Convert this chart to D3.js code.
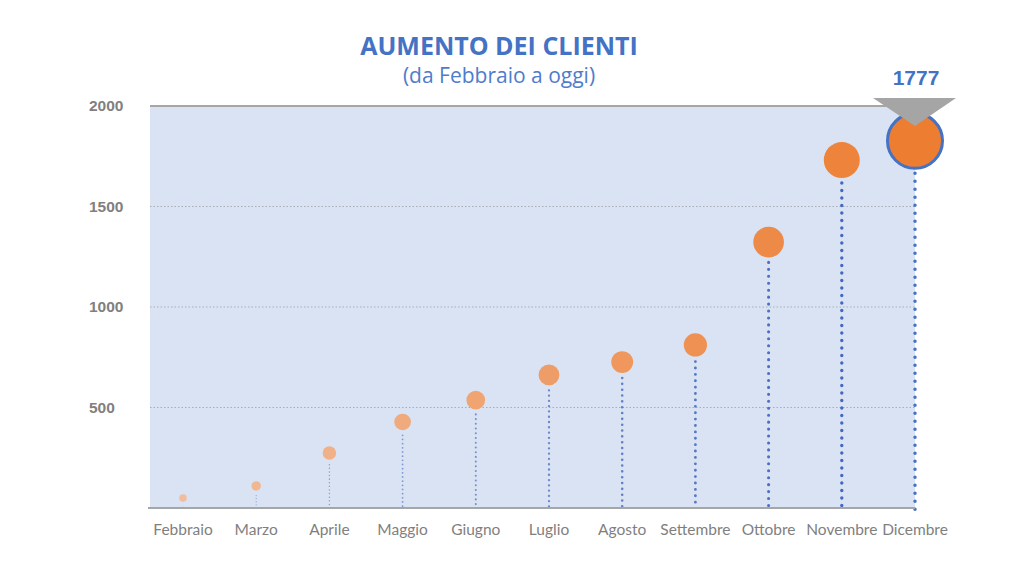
<!DOCTYPE html>
<html><head><meta charset="utf-8">
<script src="https://cdn.jsdelivr.net/npm/d3@7"></script>
<style>html,body{margin:0;padding:0;background:#fff;}svg{display:block;}</style>
</head><body>
<svg id="chart" width="1024" height="576"></svg>
<script>
const months = ["Febbraio","Marzo","Aprile","Maggio","Giugno","Luglio","Agosto","Settembre","Ottobre","Novembre","Dicembre"];
const clients = [50,110,274,428,537,662,726,811,1323,1731,1777];
const yTicks = [500,1000,1500,2000];
const titleText = "AUMENTO DEI CLIENTI";
const subtitleText = "(da Febbraio a oggi)";

const svg = d3.select("#chart");
const plot = {left:150, right:915, top:106, bottom:508};
const x = d3.scalePoint().domain(months).range([183, 915]);
const y = d3.scaleLinear().domain([0, 2000]).range([plot.bottom, plot.top]);
const idx = d3.scaleLinear().domain([0, months.length - 2]);
const r = d3.scalePow().exponent(0.7).domain([0, 1731]).range([2.5, 18]);
const fill = idx.copy().range(["#f0bd9e", "#ee843c"]);
const stemW = idx.copy().range([1, 3.4]).clamp(true);
const stemGap = idx.copy().range([2.5, 7.5]).clamp(true);
const stemCol = idx.copy().range(["#9cb0d8", "#4468c0"]).clamp(true);
const blue = "#4472c4";
const last = months.length - 1;

svg.append("rect").attr("x", plot.left).attr("y", plot.top)
  .attr("width", plot.right - plot.left).attr("height", plot.bottom - plot.top)
  .attr("fill", "#dae3f3");

svg.selectAll(".grid").data(yTicks.filter(t => t < 2000)).join("line")
  .attr("x1", plot.left).attr("x2", plot.right)
  .attr("y1", d => y(d)).attr("y2", d => y(d))
  .attr("stroke", "#a9adb5").attr("stroke-width", 1).attr("stroke-dasharray", "1.5,2");
svg.append("line").attr("x1", plot.left).attr("x2", plot.right)
  .attr("y1", y(2000)).attr("y2", y(2000)).attr("stroke", "#a6a6a6").attr("stroke-width", 2);

svg.selectAll(".ylab").data(yTicks).join("text")
  .attr("x", 89).attr("y", d => y(d) + 5)
  .attr("font-family", "'Liberation Sans', Arial, sans-serif").attr("font-weight", "bold")
  .attr("font-size", 15.5).attr("fill", "#808080").text(d => d);

const data = months.map((m, i) => ({m, v: clients[i], i}));
const cyOf = d => d.i === last ? y(d.v) - 10 : y(d.v);
const rOf = d => d.i === last ? 27.5 : r(d.v);
svg.selectAll(".stem").data(data).join("line")
  .attr("x1", d => x(d.m)).attr("x2", d => x(d.m))
  .attr("y1", d => cyOf(d) + rOf(d) + 5)
  .attr("y2", d => d.i === last ? plot.bottom + 6 : plot.bottom)
  .attr("stroke", d => d.i === last ? blue : stemCol(d.i))
  .attr("stroke-width", d => d.i === last ? 3.5 : stemW(d.i))
  .attr("stroke-linecap", d => d.i === 0 ? "butt" : "round")
  .attr("stroke-dasharray", d => d.i === 0 ? null : `0,${d.i === last ? 8 : stemGap(d.i)}`);

svg.append("line").attr("x1", plot.left - 2).attr("x2", plot.right)
  .attr("y1", plot.bottom).attr("y2", plot.bottom).attr("stroke", "#a6a6a6").attr("stroke-width", 2);

svg.selectAll(".dot").data(data).join("circle")
  .attr("cx", d => x(d.m)).attr("cy", cyOf).attr("r", rOf)
  .attr("fill", d => d.i === last ? "#ed7d31" : fill(d.i))
  .attr("stroke", d => d.i === last ? blue : "none")
  .attr("stroke-width", 3);

const hd = data[last];
const hx = x(hd.m);
svg.append("path")
  .attr("d", `M${hx - 42},${y(2000) - 8}L${hx + 41},${y(2000) - 8}L${hx},${y(2000) + 20}Z`)
  .attr("fill", "#a5a5a5");
svg.append("text").attr("x", hx + 1).attr("y", y(2000) - 21)
  .attr("text-anchor", "middle").attr("font-family", "'Liberation Sans', Arial, sans-serif")
  .attr("font-weight", "bold").attr("font-size", 21).attr("fill", blue).text(hd.v);

svg.selectAll(".xlab").data(data).join("text")
  .attr("x", d => x(d.m)).attr("y", 535)
  .attr("text-anchor", "middle").attr("font-family", "Lato, sans-serif")
  .attr("font-size", 15.5).attr("fill", "#7f7f7f").text(d => d.m);

svg.append("text").attr("x", 499).attr("y", 55).attr("text-anchor", "middle")
  .attr("font-family", "'Open Sans', sans-serif").attr("font-weight", "bold")
  .attr("font-size", 25).attr("fill", blue).text(titleText);
svg.append("text").attr("x", 499).attr("y", 83).attr("text-anchor", "middle")
  .attr("font-family", "'Open Sans', sans-serif")
  .attr("font-size", 21).attr("fill", "#4f7ccb").text(subtitleText);
</script>
</body></html>
